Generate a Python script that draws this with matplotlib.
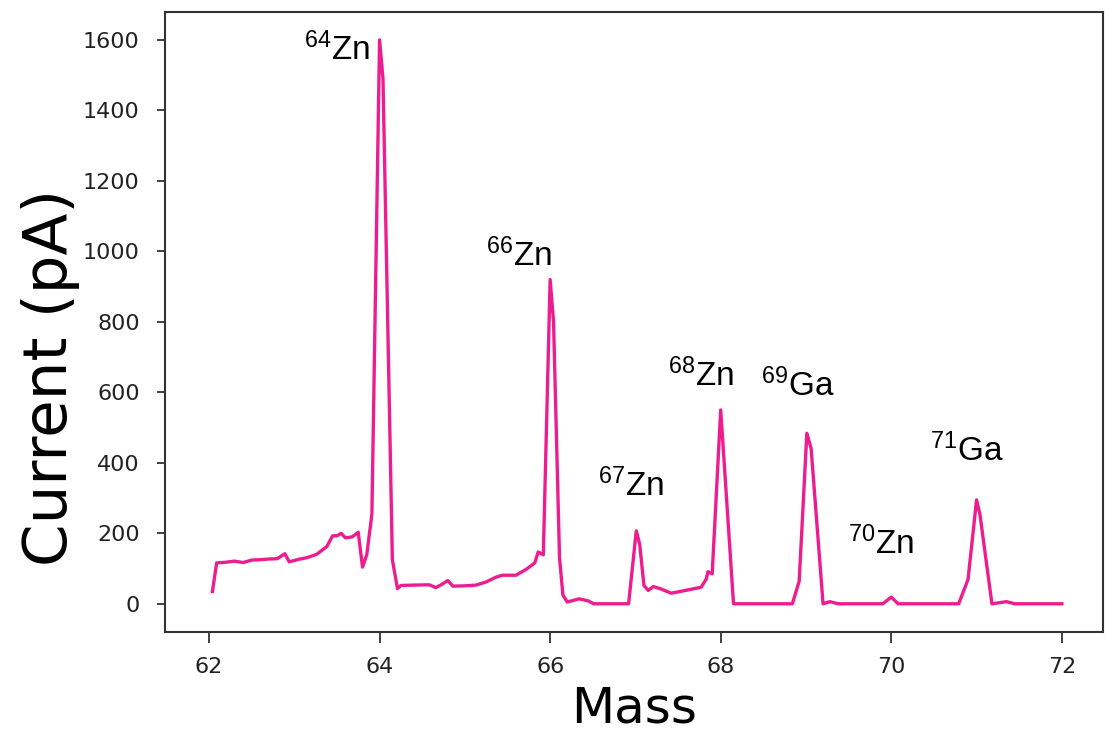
import matplotlib
matplotlib.use("Agg")
import matplotlib.pyplot as plt

# mass scan, Faraday cup current
mass = [62.04, 62.09, 62.2, 62.3, 62.4, 62.5, 62.6, 62.7, 62.8, 62.89, 62.94,
        63.05, 63.15, 63.26, 63.38, 63.45, 63.5, 63.55, 63.6, 63.68, 63.75,
        63.8, 63.85, 63.91, 64.0, 64.04, 64.15, 64.21, 64.25, 64.4, 64.58,
        64.66, 64.73, 64.8, 64.86, 65.0, 65.13, 65.25, 65.36, 65.44, 65.6,
        65.72, 65.82, 65.86, 65.92, 66.0, 66.04, 66.11, 66.15, 66.2, 66.34,
        66.45, 66.51, 66.92, 67.01, 67.05, 67.1, 67.15, 67.21, 67.3, 67.42,
        67.61, 67.77, 67.83, 67.85, 67.9, 68.0, 68.15, 68.84, 68.92, 69.01,
        69.06, 69.2, 69.28, 69.38, 69.9, 70.0, 70.08, 70.79, 70.9, 71.0,
        71.04, 71.18, 71.35, 71.45, 72.0]
current = [35, 116, 118, 121, 117, 124, 125, 127, 128, 142, 119,
           126, 131, 140, 162, 193, 193, 200, 187, 190, 203,
           104, 139, 254, 1600, 1490, 125, 43, 52, 53, 54,
           46, 55, 66, 50, 51, 53, 62, 75, 81, 81,
           98, 116, 147, 139, 920, 800, 130, 25, 5, 14,
           8, 0, 0, 207, 169, 52, 38, 49, 42, 30,
           39, 47, 70, 91, 85, 550, 0, 0, 64, 484,
           441, 0, 6, 0, 0, 19, 0, 0, 69, 295,
           253, 0, 6, 0, 0]

# isotope labels: (mass number, element, x, y)
iso_num = ["64", "66", "67", "68", "69", "70", "71"]
iso_el = ["Zn", "Zn", "Zn", "Zn", "Ga", "Zn", "Ga"]
label_x = [63.5, 65.64, 66.95, 67.77, 68.9, 69.88, 70.88]
label_y = [1544, 957, 306, 617, 589, 142, 405]

plt.rcParams['mathtext.fontset'] = 'custom'
plt.rcParams['mathtext.rm'] = 'Liberation Sans'
plt.rcParams['mathtext.it'] = 'Liberation Sans:italic'

fig = plt.figure(figsize=(11.05, 7.34), dpi=100)
ax = fig.add_axes([0.149, 0.139, 0.849, 0.845])

ax.plot(mass, current, color='#ee1d8f', linewidth=2.4)

for n, el, x, y in zip(iso_num, iso_el, label_x, label_y):
    ax.text(x, y, r'$^{%s}$%s' % (n, el), fontsize=24, family='Liberation Sans',
            ha='center', va='baseline', color='black')

ax.set_xlim(61.48, 72.48)
ax.set_xticks([62, 64, 66, 68, 70, 72])
ax.set_yticks(range(0, 1601, 200))
ax.tick_params(labelsize=16, length=6, width=1.3, color='#333333', labelcolor='#222222')
ax.tick_params(axis='y', pad=12)
ax.tick_params(axis='x', length=8, pad=10)
for s in ax.spines.values():
    s.set_linewidth(1.5)
    s.set_color('#333333')

ax.set_xlabel('Mass', fontsize=36)
ax.xaxis.set_label_coords(0.5, -0.085, transform=ax.transAxes)
ax.xaxis.label.set_va('top')
ax.set_ylabel('Current (pA)', fontsize=44)
ax.yaxis.set_label_coords(-0.09, 0.41, transform=ax.transAxes)

plt.savefig('out.png', dpi=100)
